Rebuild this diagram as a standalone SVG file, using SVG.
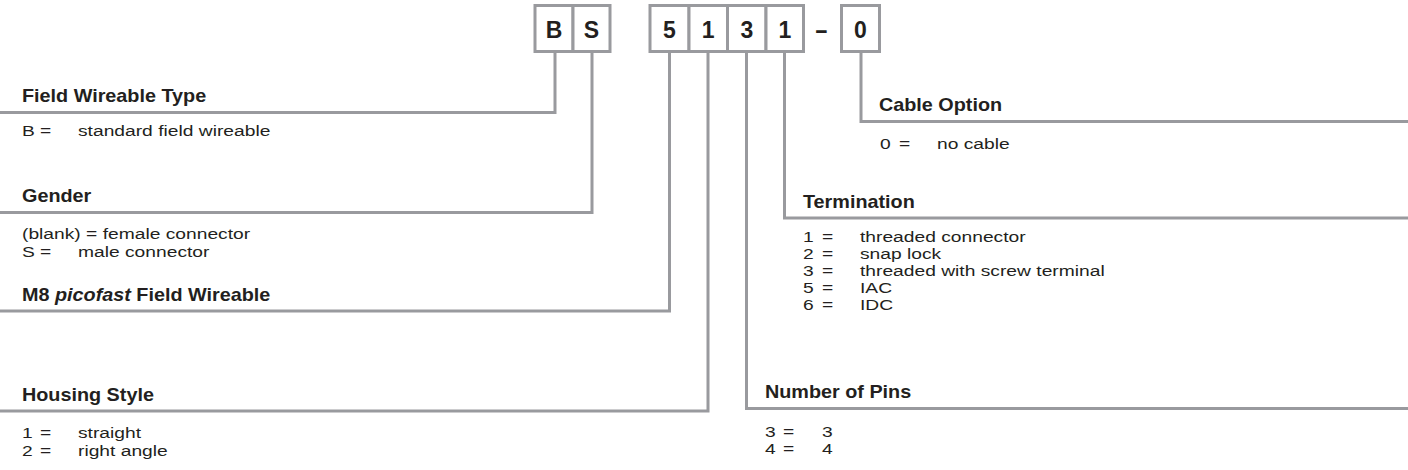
<svg xmlns="http://www.w3.org/2000/svg" width="1408" height="470" viewBox="0 0 1408 470">
<style>
  .bg { fill: #ffffff; }
  .box { fill: #ffffff; stroke: #999a9e; stroke-width: 3; }
  .conn path { fill: none; stroke: #999a9e; stroke-width: 3; stroke-linejoin: miter; stroke-linecap: butt; }
  .code { font-family: "Liberation Sans", Arial, sans-serif; font-size: 23px; font-weight: bold; fill: #231f20; text-anchor: middle; }
  .h { font-family: "Liberation Sans", Arial, sans-serif; font-size: 18px; font-weight: bold; fill: #231f20; transform-box: fill-box; transform-origin: 0 0; transform: scaleX(1.1); }
  .r { font-family: "Liberation Sans", Arial, sans-serif; font-size: 15.2px; fill: #231f20; transform-box: fill-box; transform-origin: 0 0; transform: scaleX(1.265); }
</style>
<rect class="bg" x="0" y="0" width="1408" height="470"/>

<g id="connectors" class="conn">
  <path d="M555,53 V112.5 H0"/>
  <path d="M592,53 V212.5 H0"/>
  <path d="M669.5,53 V311 H0"/>
  <path d="M708,53 V411 H0"/>
  <path d="M746.5,53 V408.5 H1408"/>
  <path d="M784.5,53 V218 H1408"/>
  <path d="M861,53 V121.5 H1408"/>
</g>

<g id="box-B"><rect class="box" x="535" y="5.5" width="38" height="46"/><text class="code" x="554" y="38">B</text></g>
<g id="box-S"><rect class="box" x="573" y="5.5" width="37" height="46"/><text class="code" x="591.5" y="38">S</text></g>
<g id="box-5"><rect class="box" x="650" y="5.5" width="39" height="46"/><text class="code" x="669.5" y="38">5</text></g>
<g id="box-1a"><rect class="box" x="689" y="5.5" width="38.5" height="46"/><text class="code" x="708.2" y="38">1</text></g>
<g id="box-3"><rect class="box" x="727.5" y="5.5" width="38.5" height="46"/><text class="code" x="746.8" y="38">3</text></g>
<g id="box-1b"><rect class="box" x="766" y="5.5" width="37.5" height="46"/><text class="code" x="784.8" y="38">1</text></g>
<g id="dash"><text class="code" transform="translate(821.5,38) scale(1.8,1)" x="0" y="0">-</text></g>
<g id="box-0"><rect class="box" x="841.5" y="5.5" width="38" height="46"/><text class="code" x="860.5" y="38">0</text></g>

<g id="field-wireable-type">
  <text class="h" x="22" y="102.5">Field Wireable Type</text>
  <text class="r" x="22" y="136">B</text><text class="r" x="40" y="136">=</text><text class="r" x="78" y="136">standard field wireable</text>
</g>
<g id="gender">
  <text class="h" x="22" y="202.5">Gender</text>
  <text class="r" x="22" y="239.5">(blank) = female connector</text>
  <text class="r" x="22" y="257">S</text><text class="r" x="40" y="257">=</text><text class="r" x="78" y="257">male connector</text>
</g>
<g id="m8-picofast">
  <text class="h" x="22" y="301">M8 <tspan font-style="italic">picofast</tspan> Field Wireable</text>
</g>
<g id="housing-style">
  <text class="h" x="22" y="401">Housing Style</text>
  <text class="r" x="22" y="438">1</text><text class="r" x="40" y="438">=</text><text class="r" x="78" y="438">straight</text>
  <text class="r" x="22" y="456">2</text><text class="r" x="40" y="456">=</text><text class="r" x="78" y="456">right angle</text>
</g>
<g id="cable-option">
  <text class="h" x="879" y="111.5">Cable Option</text>
  <text class="r" x="880" y="149">0</text><text class="r" x="899" y="149">=</text><text class="r" x="937" y="149">no cable</text>
</g>
<g id="termination">
  <text class="h" x="803" y="208">Termination</text>
  <text class="r" x="803" y="242">1</text><text class="r" x="822" y="242">=</text><text class="r" x="860" y="242">threaded connector</text>
  <text class="r" x="803" y="259">2</text><text class="r" x="822" y="259">=</text><text class="r" x="860" y="259">snap lock</text>
  <text class="r" x="803" y="276">3</text><text class="r" x="822" y="276">=</text><text class="r" x="860" y="276">threaded with screw terminal</text>
  <text class="r" x="803" y="293">5</text><text class="r" x="822" y="293">=</text><text class="r" x="860" y="293">IAC</text>
  <text class="r" x="803" y="310">6</text><text class="r" x="822" y="310">=</text><text class="r" x="860" y="310">IDC</text>
</g>
<g id="number-of-pins">
  <text class="h" x="765" y="398.5">Number of Pins</text>
  <text class="r" x="765" y="437">3</text><text class="r" x="783" y="437">=</text><text class="r" x="822" y="437">3</text>
  <text class="r" x="765" y="454">4</text><text class="r" x="783" y="454">=</text><text class="r" x="822" y="454">4</text>
</g>
</svg>
